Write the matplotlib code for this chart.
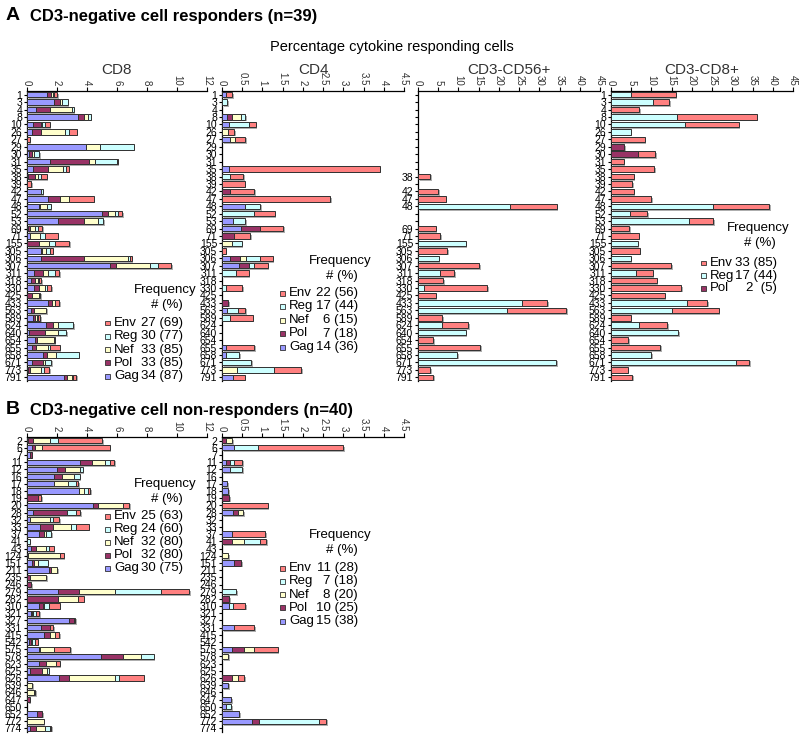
import matplotlib
matplotlib.use("Agg")
import numpy as np
import matplotlib.pyplot as plt
import matplotlib.patheffects as pe
from matplotlib.patches import Rectangle

plt.rcParams["font.family"] = ["Liberation Sans", "DejaVu Sans"]

# ---- data -------------------------------------------------------------
SERIES = ["Gag", "Pol", "Nef", "Reg", "Env"]
COLORS = {"Gag": "#9999FF", "Pol": "#993366", "Nef": "#FFFFCC",
          "Reg": "#CCFFFF", "Env": "#FF8080"}

A_IDS = [1, 3, 4, 8, 10, 26, 27, 29, 30, 31, 35, 38, 39, 42, 47, 48, 52, 53,
         69, 71, 155, 305, 306, 307, 311, 318, 330, 425, 433, 563, 589, 624,
         640, 654, 655, 658, 671, 773, 791]

B_IDS = [2, 6, 7, 11, 12, 16, 17, 18, 19, 20, 28, 32, 33, 37, 41, 43, 124,
         151, 211, 235, 246, 279, 282, 310, 321, 327, 331, 415, 542, 575, 578,
         623, 625, 626, 639, 646, 647, 650, 652, 772, 774]

# each row: Gag, Pol, Nef, Reg, Env (% responding cells)
A_CD8 = [
    [1.35, 0.25, 0.1, 0.1, 0.2], [1.8, 0.4, 0.15, 0.35, 0],
    [0.6, 0.95, 1.45, 0.1, 0], [3.4, 0.4, 0.25, 0.2, 0],
    [0.38, 0.55, 0.07, 0.2, 0.3], [0.36, 0.6, 1.6, 0.26, 0.5],
    [0, 0, 0, 0, 0.18], [3.96, 0, 0.88, 2.26, 0],
    [0.15, 0.2, 0.1, 0.37, 0], [1.5, 2.6, 0.45, 1.45, 0.05],
    [0.4, 1.0, 1.0, 0.22, 0.16], [0.05, 0.5, 0.15, 0.2, 0.4],
    [0, 0, 0, 0, 0.27], [0.9, 0, 0, 0.15, 0],
    [1.38, 0.84, 0.6, 0, 1.62], [0.82, 0.05, 0.45, 0.25, 0],
    [5.0, 0.38, 0.46, 0.2, 0.29], [2.04, 1.74, 0.95, 0.34, 0],
    [0.05, 0.15, 0.35, 0.15, 0.33], [0.22, 0, 0.62, 0.34, 0.86],
    [0, 0.78, 0.71, 0.35, 0.98], [0.93, 0.1, 0.23, 0.24, 0.22],
    [0.96, 2.82, 2.95, 0.15, 0.1], [5.56, 0.37, 2.25, 0.53, 0.91],
    [0.44, 0.6, 0.34, 0.46, 0.32], [0.29, 0.27, 0.15, 0.11, 0.14],
    [0.44, 0.34, 0.4, 0.15, 0.27], [0, 0.33, 0.49, 0.05, 0],
    [1.4, 0.27, 0.17, 0.05, 0.27], [0.27, 0.17, 0.83, 0, 0],
    [0.38, 0.18, 0.12, 0.05, 0.16], [1.29, 0.42, 0.33, 1.03, 0],
    [0.11, 1.07, 0.86, 0.58, 0], [0.56, 0.11, 1.11, 0, 0.06],
    [0.33, 0.29, 0.76, 0.18, 0.62], [1.04, 0.29, 0.6, 1.51, 0],
    [0.33, 0.74, 0.11, 0.44, 0], [0.05, 0.13, 0.75, 0.17, 0.39],
    [2.44, 0.23, 0.33, 0.05, 0.24],
]

A_CD4 = [
    [0.1, 0, 0, 0, 0.15], [0, 0, 0, 0.12, 0], [0, 0, 0, 0, 0],
    [0.12, 0.13, 0.23, 0.1, 0], [0.17, 0, 0, 0.49, 0.17],
    [0, 0, 0.15, 0, 0.15], [0.2, 0, 0.11, 0, 0.27],
    [0, 0, 0, 0, 0], [0, 0, 0, 0, 0], [0, 0, 0, 0, 0],
    [0.17, 0, 0, 0, 3.73], [0, 0, 0, 0.21, 0.31], [0, 0, 0, 0, 0.56],
    [0, 0.21, 0, 0, 0.58], [0, 0, 0, 0, 2.67], [0.57, 0, 0, 0.37, 0],
    [0, 0, 0, 0.79, 0.51], [0.27, 0, 0, 0.31, 0],
    [0.46, 0.49, 0, 0, 0.57], [0, 0.3, 0, 0, 0.4],
    [0, 0, 0.25, 0.24, 0], [0, 0, 0, 0, 0.09],
    [0.21, 0.24, 0.15, 0.34, 0.31], [0.43, 0.23, 0, 0.14, 0.33],
    [0, 0, 0, 0.35, 0.31], [0, 0, 0, 0, 0], [0, 0, 0, 0.1, 0.4],
    [0, 0, 0, 0, 0], [0, 0.15, 0, 0, 0], [0.13, 0, 0, 0.26, 0.19],
    [0, 0, 0, 0.19, 0.57], [0, 0, 0, 0, 0], [0, 0, 0, 0, 0],
    [0, 0, 0, 0, 0], [0.09, 0, 0, 0, 0.71], [0.09, 0, 0, 0.34, 0],
    [0, 0, 0, 0.72, 0], [0, 0, 0.37, 0.91, 0.67], [0.27, 0, 0, 0, 0.29],
]

A_CD56 = [
    [0, 0, 0, 0, 0]] * 11 + [
    [0, 0, 0, 0, 3.06], [0, 0, 0, 0, 0], [0, 0, 0, 0, 4.96],
    [0, 0, 0, 0, 6.86], [0, 0, 0, 22.7, 11.6], [0, 0, 0, 0, 0],
    [0, 0, 0, 0, 0], [0, 0, 0, 0, 4.38], [0, 0, 0, 0, 5.54],
    [0, 0, 0, 11.8, 0], [0, 0, 0, 0, 7.27], [0, 0, 0, 5.12, 0],
    [0, 0, 0, 0, 15.1], [0, 0, 0, 5.37, 3.56], [0, 0, 0, 0, 6.2],
    [0, 0, 0, 1.5, 15.6], [0, 0, 0, 0, 4.38], [0, 0, 0, 25.6, 6.4],
    [0, 0, 0, 21.9, 14.7], [0, 0, 0, 0, 5.95], [0, 0, 0, 6.0, 6.4],
    [0, 0, 0, 11.8, 0], [0, 0, 0, 0, 3.72], [0, 0, 0, 0, 15.3],
    [0, 0, 0, 9.75, 0], [0, 0, 0, 34.1, 0], [0, 0, 0, 0, 3.06],
    [0, 0, 0, 0, 3.72],
]

A_CD8P = [
    [0, 0, 0, 5.0, 11.0], [0, 0, 0, 10.3, 4.0], [0, 0, 0, 0, 7.0],
    [0, 0, 0, 16.25, 19.75], [0, 0, 0, 18.25, 13.3], [0, 0, 0, 4.9, 0],
    [0, 0, 0, 0, 8.3], [0, 3.3, 0, 0, 0], [0, 6.7, 0, 0, 4.3],
    [0, 0, 0, 0, 3.1], [0, 0, 0, 0, 10.6], [0, 0, 0, 0, 5.6],
    [0, 0, 0, 0, 5.3], [0, 0, 0, 0, 5.6], [0, 0, 0, 0, 9.9],
    [0, 0, 0, 25.3, 13.8], [0, 0, 0, 4.75, 4.15], [0, 0, 0, 19.3, 6.0],
    [0, 0, 0, 0, 4.5], [0, 0, 0, 0, 6.8], [0, 0, 0, 6.6, 0],
    [0, 0, 0, 0, 7.1], [0, 0, 0, 4.9, 0], [0, 0, 0, 0, 14.9],
    [0, 0, 0, 6.25, 4.05], [0, 0, 0, 0, 11.25], [0, 0, 0, 0, 17.4],
    [0, 0, 0, 0, 13.25], [0, 0, 0, 18.7, 5.05], [0, 0, 0, 15.2, 11.4],
    [0, 0, 0, 0, 4.9], [0, 0, 0, 6.8, 7.1], [0, 0, 0, 16.6, 0],
    [0, 0, 0, 0, 4.3], [0, 0, 0, 0, 12.1], [0, 0, 0, 9.9, 0],
    [0, 0, 0, 31.0, 3.1], [0, 0, 0, 0, 4.1], [0, 0, 0, 0, 5.3],
]

B_CD8 = [
    [0.05, 0.33, 1.17, 0.49, 2.96], [0.3, 0.2, 0.5, 0, 4.5],
    [0.2, 0.1, 0, 0, 0], [3.5, 0.8, 0.9, 0.3, 0.3],
    [2.0, 0.5, 1.0, 0.2, 0], [1.8, 0.5, 0.8, 0.4, 0],
    [1.78, 0, 0.95, 0.56, 0.11], [3.49, 0, 0.29, 0.26, 0.18],
    [0, 0.71, 0, 0, 0.25], [4.4, 0.31, 1.69, 0, 0.42],
    [0.38, 2.29, 0, 0.62, 0.27], [0.18, 0, 1.33, 0.2, 0.45],
    [0.89, 0.82, 1.22, 0.36, 0.82], [0.78, 0.33, 0.16, 0.33, 0],
    [0, 0, 0, 0.18, 0], [0.27, 0.33, 0.69, 0.2, 0.29],
    [0.05, 0, 2.13, 0, 0.26], [0.33, 0.16, 0.22, 0.67, 0],
    [1.49, 0.11, 0.4, 0, 0], [0, 0.18, 1.11, 0, 0],
    [0, 0.27, 0, 0, 0], [2.04, 1.4, 2.4, 3.09, 1.89],
    [0, 2.04, 1.34, 0, 0.4], [0.82, 0.22, 0.12, 0.33, 0.69],
    [0.27, 0.05, 0.1, 0.2, 0.2], [2.78, 0.33, 0.11, 0, 0],
    [0.93, 0.58, 0, 0, 0.22], [1.11, 0.4, 0.33, 0, 0.32],
    [0.16, 0.1, 0.1, 0.14, 0.2], [0.78, 0.11, 0.89, 0, 1.11],
    [4.96, 1.44, 1.22, 0.82, 0], [0.78, 0.49, 0.69, 0, 0.22],
    [0.18, 0.82, 0.33, 0.11, 0], [2.16, 0.62, 3.11, 0.27, 1.62],
    [0, 0, 0.33, 0, 0], [0, 0, 0.44, 0.12, 0], [0, 0.18, 0, 0, 0],
    [0, 0, 0, 0, 0], [0.67, 0.33, 0, 0, 0], [0, 0, 1.11, 0, 0],
    [0.18, 0.44, 0.56, 0.33, 0.09],
]

B_CD4 = [
    [0, 0.1, 0.15, 0, 0], [0.3, 0, 0, 0.6, 2.1], [0, 0, 0, 0, 0],
    [0.1, 0.1, 0, 0.1, 0.2], [0.2, 0, 0, 0.3, 0], [0, 0, 0, 0, 0],
    [0.12, 0, 0, 0, 0], [0.15, 0, 0, 0, 0], [0, 0.17, 0, 0, 0],
    [0, 0, 0, 0, 1.13], [0.27, 0.12, 0.13, 0, 0], [0, 0, 0, 0, 0],
    [0, 0, 0, 0, 0], [0.25, 0, 0, 0, 0.82], [0, 0.25, 0.29, 0.39, 0.16],
    [0, 0, 0, 0, 0], [0, 0, 0.15, 0, 0], [0.3, 0.18, 0, 0, 0],
    [0, 0, 0, 0, 0], [0, 0, 0, 0, 0], [0, 0, 0, 0, 0],
    [0, 0, 0, 0.35, 0], [0, 0.17, 0, 0, 0], [0.17, 0, 0, 0.1, 0.3],
    [0, 0, 0, 0, 0], [0, 0, 0, 0, 0], [0.3, 0, 0, 0, 0.49],
    [0, 0, 0, 0, 0], [0, 0, 0, 0, 0], [0.25, 0.29, 0.26, 0, 0.58],
    [0, 0, 0.16, 0, 0], [0, 0, 0, 0, 0], [0, 0, 0, 0, 0],
    [0, 0.25, 0.14, 0, 0.15], [0.16, 0, 0, 0, 0], [0, 0, 0, 0, 0],
    [0.23, 0, 0, 0, 0], [0.11, 0, 0, 0.12, 0], [0.43, 0, 0, 0, 0],
    [0.74, 0.17, 0, 1.49, 0.18], [0, 0, 0, 0, 0],
]

# legend tables: name, responders, percent
A_CD8_FREQ = [("Env", 27, 69), ("Reg", 30, 77), ("Nef", 33, 85),
              ("Pol", 33, 85), ("Gag", 34, 87)]
A_CD4_FREQ = [("Env", 22, 56), ("Reg", 17, 44), ("Nef", 6, 15),
              ("Pol", 7, 18), ("Gag", 14, 36)]
A_CD8P_FREQ = [("Env", 33, 85), ("Reg", 17, 44), ("Pol", 2, 5)]
B_CD8_FREQ = [("Env", 25, 63), ("Reg", 24, 60), ("Nef", 32, 80),
              ("Pol", 32, 80), ("Gag", 30, 75)]
B_CD4_FREQ = [("Env", 11, 28), ("Reg", 7, 18), ("Nef", 8, 20),
              ("Pol", 10, 25), ("Gag", 15, 38)]

# ---- drawing ----------------------------------------------------------
W, H = 800, 736
fig = plt.figure(figsize=(W / 100, H / 100), dpi=100)
SHADOW = [pe.SimplePatchShadow(offset=(1.2, -1.2), shadow_rgbFace="#9a9a9a",
                               alpha=0.8), pe.Normal()]


def box(x0, y0, x1, y1):
    """pixel box (top-left origin) -> figure fraction rect"""
    return [x0 / W, 1 - y1 / H, (x1 - x0) / W, (y1 - y0) / H]


def panel(rect, ids, rows, xmax, step, title=None, hide_empty=False):
    ax = fig.add_axes(rect)
    n = len(ids)
    left = np.zeros(n)
    for k, s in enumerate(SERIES):
        vals = np.array([r[k] for r in rows], dtype=float)
        idx = np.nonzero(vals > 0)[0]
        if len(idx):
            ax.barh(idx, vals[idx], left=left[idx], height=0.74,
                    color=COLORS[s], edgecolor="#303030", linewidth=0.7,
                    path_effects=SHADOW, zorder=3)
        left += vals
    ax.set_ylim(n - 0.5, -0.5)
    ax.set_xlim(0, xmax)
    ticks = np.arange(0, xmax + step / 2, step)
    ax.set_xticks(ticks)
    ax.set_xticklabels([f"{t:g}" for t in ticks])
    ax.xaxis.tick_top()
    ax.tick_params(axis="x", labelrotation=-90, labelsize=7, length=3,
                   pad=1, labelcolor="#333333")
    ax.set_yticks(range(n))
    labels = [str(i) if (not hide_empty or left[j] > 0) else ""
              for j, i in enumerate(ids)]
    ax.set_yticklabels(labels)
    ax.tick_params(axis="y", labelsize=7.5, length=2.5, pad=1)
    for side in ("right", "bottom"):
        ax.spines[side].set_visible(False)
    for side in ("left", "top"):
        ax.spines[side].set_linewidth(0.9)
    if title:
        x0, _, w, _ = rect
        fig.text(x0 + w / 2, 1 - 70 / H, title, ha="center", va="center",
                 fontsize=11, color="#333333")
    return ax


def freq_legend(cx, y_head, sq_x, num_x, y_first, dy, entries):
    fig.text(cx / W, 1 - y_head / H, "Frequency", ha="center", va="center",
             fontsize=9.5)
    fig.text((cx + 2) / W, 1 - (y_head + 15) / H, "# (%)", ha="center",
             va="center", fontsize=9.5)
    for i, (name, cnt, pct) in enumerate(entries):
        yy = y_first + i * dy
        fig.patches.append(Rectangle(((sq_x - 2.5) / W, 1 - (yy + 2.5) / H),
                                     5 / W, 5 / H, transform=fig.transFigure,
                                     facecolor=COLORS[name],
                                     edgecolor="#303030", linewidth=0.6))
        fig.text((sq_x + 7) / W, 1 - yy / H, name, ha="left", va="center",
                 fontsize=9.5)
        txt = f"{cnt} ({pct})" if pct >= 10 else f"{cnt}  ({pct})"
        fig.text(num_x / W, 1 - yy / H, txt, ha="right", va="center",
                 fontsize=9.5)


# panel A
fig.text(6 / W, 1 - 16 / H, "A", fontsize=14, fontweight="bold",
         va="center")
fig.text(30 / W, 1 - 16 / H, "CD3-negative cell responders (n=39)",
         fontsize=12, fontweight="bold", va="center")
fig.text(392 / W, 1 - 47 / H, "Percentage cytokine responding cells",
         fontsize=10.5, ha="center", va="center")

panel(box(27, 91, 207, 381), A_IDS, A_CD8, 12, 2, "CD8")
panel(box(222, 91, 404, 381), A_IDS, A_CD4, 4.5, 0.5, "CD4")
panel(box(418, 91, 600, 381), A_IDS, A_CD56, 45, 5, "CD3-CD56+",
      hide_empty=True)
panel(box(611, 91, 793, 381), A_IDS, A_CD8P, 45, 5, "CD3-CD8+")

freq_legend(165, 290, 107, 183, 323, 13.3, A_CD8_FREQ)
freq_legend(340, 261, 282, 358, 293, 13.5, A_CD4_FREQ)
freq_legend(758, 228, 703, 777, 263, 12.5, A_CD8P_FREQ)

# panel B
fig.text(6 / W, 1 - 410 / H, "B", fontsize=14, fontweight="bold",
         va="center")
fig.text(30 / W, 1 - 410 / H, "CD3-negative cell non-responders (n=40)",
         fontsize=12, fontweight="bold", va="center")

panel(box(27, 437, 207, 732), B_IDS, B_CD8, 12, 2)
panel(box(222, 437, 404, 732), B_IDS, B_CD4, 4.5, 0.5)

freq_legend(165, 484, 107, 183, 516, 13.0, B_CD8_FREQ)
freq_legend(340, 535, 282, 358, 568, 13.3, B_CD4_FREQ)

fig.savefig("out.png", dpi=100)
